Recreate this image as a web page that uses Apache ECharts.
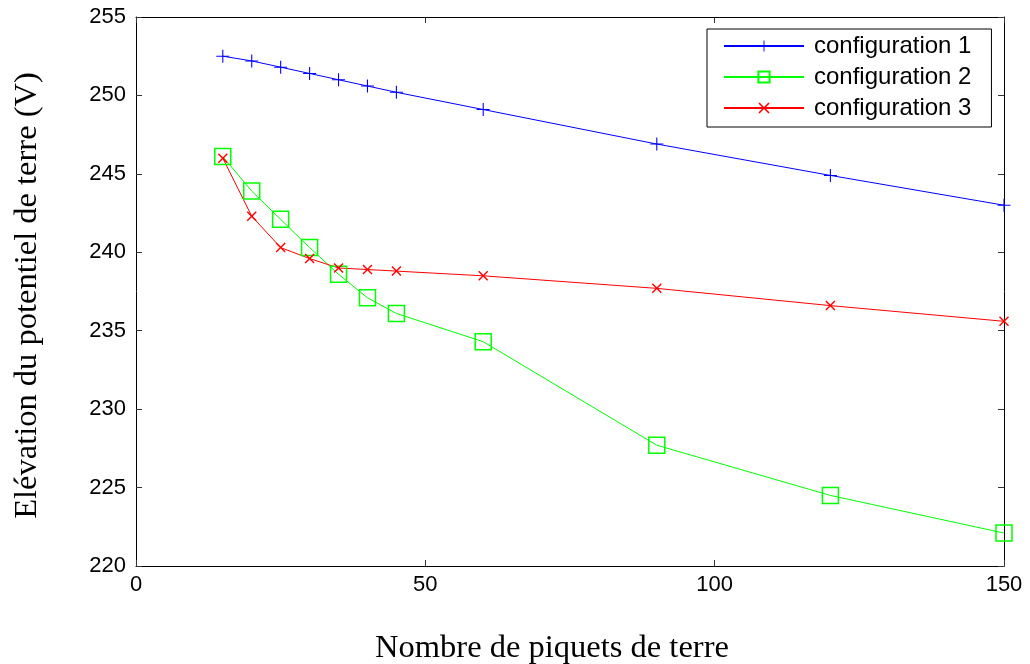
<!DOCTYPE html>
<html>
<head>
<meta charset="utf-8">
<script src="https://cdn.jsdelivr.net/npm/echarts@6/dist/echarts.min.js"></script>
<style>html,body{margin:0;padding:0;background:#fff}#c{width:1030px;height:664px}</style>
</head>
<body>
<div id="c"></div>
<script>
const piquets = [15, 20, 25, 30, 35, 40, 45, 60, 90, 120, 150];
const config1 = [252.5, 252.2, 251.8, 251.4, 251.0, 250.6, 250.2, 249.1, 246.9, 244.9, 243.0];
const config2 = [246.1, 243.9, 242.1, 240.3, 238.6, 237.1, 236.1, 234.3, 227.7, 224.5, 222.1];
const config3 = [246.0, 242.3, 240.3, 239.6, 239.0, 238.9, 238.8, 238.5, 237.7, 236.6, 235.6];
const seriesNames = ['configuration 1', 'configuration 2', 'configuration 3'];
const xTitle = 'Nombre de piquets de terre';
const yTitle = 'Elévation du potentiel de terre (V)';

const plusPath = 'path://M5.5,0h1v5.5h5.5v1h-5.5v5.5h-1v-5.5h-5.5v-1h5.5z';
const xPath = 'path://M0,1L1,0L5,4L9,0L10,1L6,5L10,9L9,10L5,6L1,10L0,9L4,5Z';

function pairs(ys) { return piquets.map((x, i) => [x, ys[i]]); }

const sans = 'Liberation Sans, Arial, sans-serif';
const serif = 'Liberation Serif, Times New Roman, serif';
const axisCommon = {
  axisLine: { show: true, onZero: false, lineStyle: { color: '#000', width: 1 } },
  axisTick: { show: true, inside: true, length: 6, lineStyle: { color: '#333' } },
  splitLine: { show: false }
};

const chart = echarts.init(document.getElementById('c'));
chart.setOption({
  animation: false,
  backgroundColor: '#fff',
  grid: { left: 136, right: 26, top: 17, bottom: 98, containLabel: false, outerBoundsMode: 'none' },
  legend: {
    orient: 'vertical',
    left: 707, top: 29,
    padding: [5, 20, 7, 16],
    itemWidth: 80, itemHeight: 14, itemGap: 7,
    backgroundColor: '#fff',
    borderColor: '#000', borderWidth: 1, borderRadius: 0,
    textStyle: { fontFamily: sans, fontSize: 24, color: '#000', lineHeight: 24, padding: [0, 0, 0, 5] },
    data: seriesNames
  },
  xAxis: [
    Object.assign({}, axisCommon, {
      type: 'value', min: 0, max: 150, interval: 50, position: 'bottom',
      axisLabel: { color: '#000', fontFamily: sans, fontSize: 22, margin: 8 },
      name: xTitle, nameLocation: 'middle', nameGap: 66,
      nameTextStyle: { fontFamily: serif, fontSize: 32.5, color: '#000', padding: [0, 36, 0, 0] }
    }),
    Object.assign({}, axisCommon, {
      type: 'value', min: 0, max: 150, interval: 50, position: 'top',
      axisLabel: { show: false }
    })
  ],
  yAxis: [
    Object.assign({}, axisCommon, {
      type: 'value', min: 220, max: 255, interval: 5, position: 'left',
      axisLabel: { color: '#000', fontFamily: sans, fontSize: 22, margin: 10 },
      name: yTitle, nameLocation: 'middle', nameGap: 92,
      nameTextStyle: { fontFamily: serif, fontSize: 32.5, color: '#000', padding: [0, 8, 0, 0] }
    }),
    Object.assign({}, axisCommon, {
      type: 'value', min: 220, max: 255, interval: 5, position: 'right',
      axisLabel: { show: false }
    })
  ],
  series: [
    {
      name: seriesNames[0], type: 'line', data: pairs(config1),
      symbol: plusPath, symbolSize: 13,
      lineStyle: { color: '#0000ff', width: 1 },
      itemStyle: { color: '#0000ff' }
    },
    {
      name: seriesNames[1], type: 'line', data: pairs(config2),
      symbol: 'rect', symbolSize: 16,
      lineStyle: { color: '#00ff00', width: 1 },
      itemStyle: { color: 'rgba(0,0,0,0)', borderColor: '#00ff00', borderWidth: 1.5 }
    },
    {
      name: seriesNames[2], type: 'line', data: pairs(config3),
      symbol: xPath, symbolSize: 10,
      lineStyle: { color: '#ff0000', width: 1 },
      itemStyle: { color: '#ff0000' }
    }
  ]
});
</script>
</body>
</html>
